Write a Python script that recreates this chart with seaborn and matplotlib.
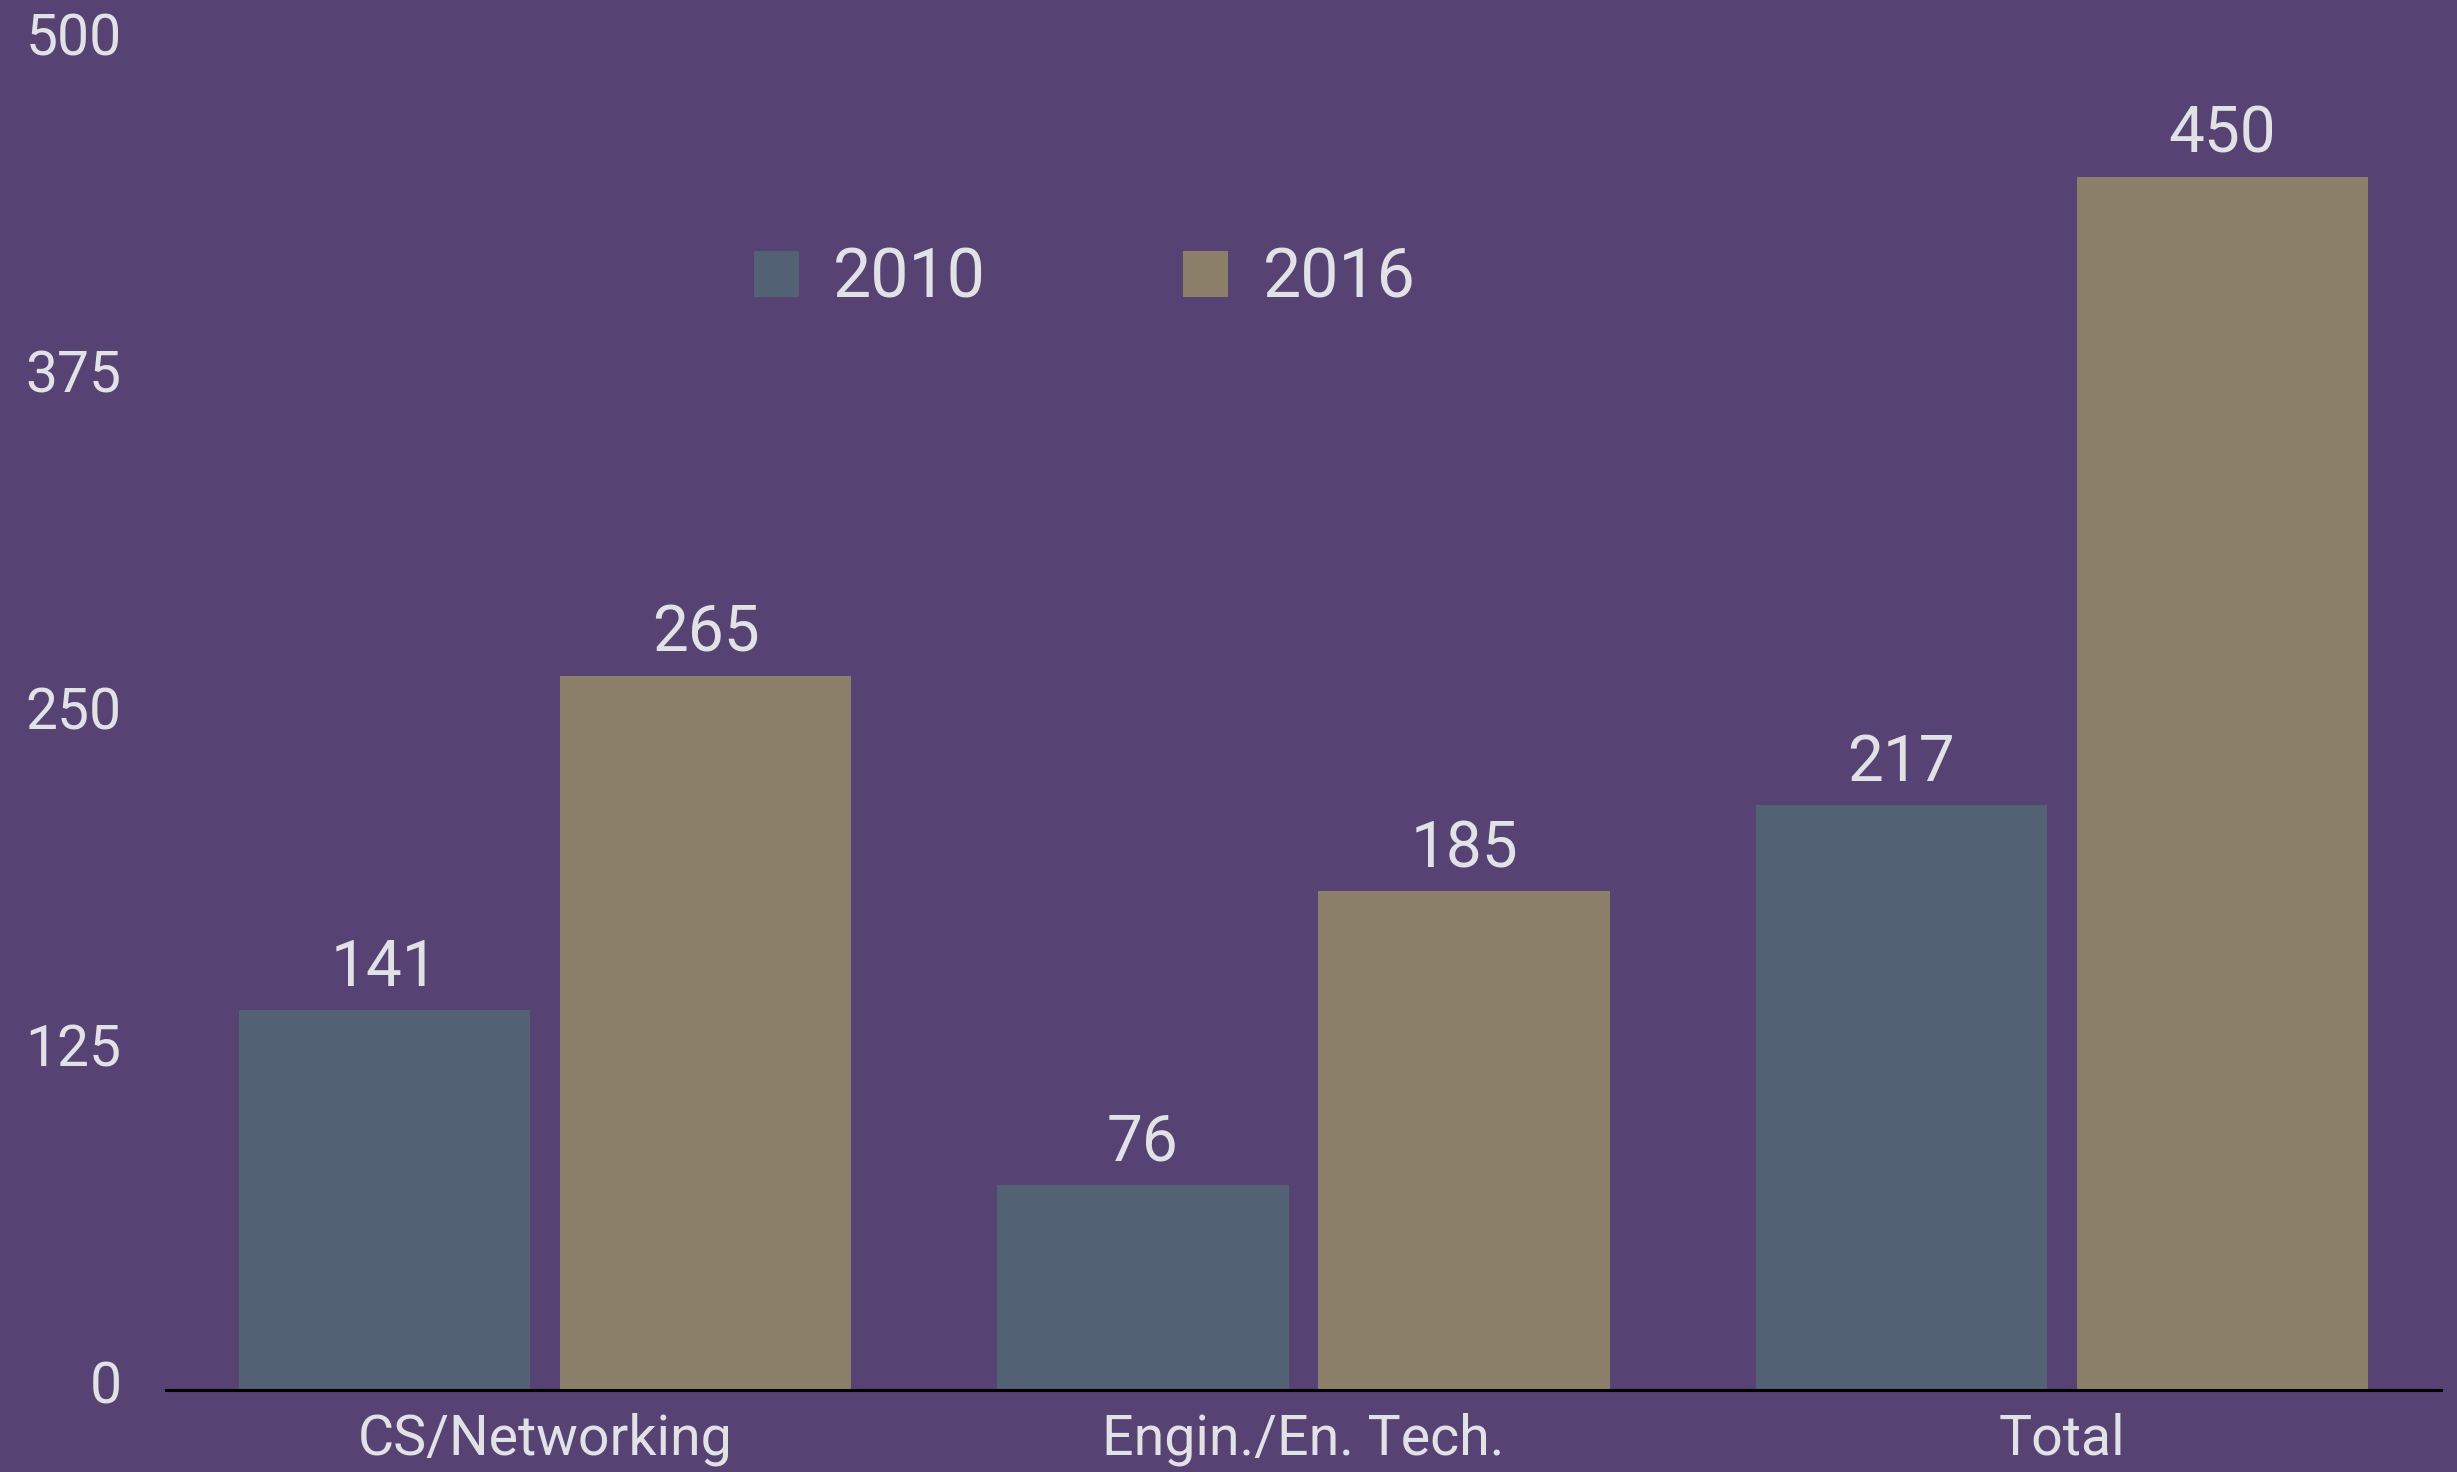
import matplotlib
matplotlib.use("Agg")
import matplotlib.pyplot as plt
import matplotlib.transforms as mtransforms
import seaborn as sns
import pandas as pd

# chart values
categories = ["CS/Networking", "Engin./En. Tech.", "Total"]
years = ["2010", "2016"]
values_2010 = [141, 76, 217]
values_2016 = [265, 185, 450]
yticks = [0, 125, 250, 375, 500]

df = pd.DataFrame({
    "category": categories * 2,
    "year": [years[0]] * 3 + [years[1]] * 3,
    "value": values_2010 + values_2016,
})

bg = "#574274"
txt = "#e2e1e6"
palette = {"2010": "#536175", "2016": "#8c7f6a"}

sns.set_theme(style="white")
plt.rcParams["font.family"] = ["Roboto", "DejaVu Sans"]

fig = plt.figure(figsize=(24.57, 14.72), dpi=100, facecolor=bg)
ax = fig.add_axes([0.0676, 0.0557, 0.9259, 0.9158])
ax.set_facecolor(bg)

sns.barplot(data=df, x="category", y="value", hue="year", order=categories,
            hue_order=years, palette=palette, width=0.847, gap=0.093,
            saturation=1, edgecolor="none", linewidth=0, ax=ax)

for c in ax.containers:
    ax.bar_label(c, padding=8, fontsize=46, color=txt)

ax.set_xlim(-0.5, 2.5)
ax.set_ylim(0, 500)
ax.set_yticks(yticks)
ax.set_xlabel("")
ax.set_ylabel("")
ax.tick_params(axis="y", length=0, pad=32, labelsize=41, labelcolor=txt)
ax.tick_params(axis="x", length=0, pad=16, labelsize=40, labelcolor=txt)

# y labels sit a little above their values in the original
shift = mtransforms.ScaledTranslation(0, 6 / 72, fig.dpi_scale_trans)
for lab in ax.get_yticklabels():
    lab.set_transform(lab.get_transform() + shift)

sns.despine(ax=ax, left=True)
ax.spines["bottom"].set_color("black")
ax.spines["bottom"].set_linewidth(2.2)

ax.legend_.remove()
handles, labels = ax.get_legend_handles_labels()
fig.legend(handles, labels, loc="center", bbox_to_anchor=(0.4415, 0.8105),
           bbox_transform=fig.transFigure, ncol=2, frameon=False,
           fontsize=49, labelcolor=txt, handlelength=0.66, handleheight=0.68,
           handletextpad=0.5, columnspacing=2.9, borderpad=0)

plt.savefig("out.png", dpi=100, facecolor=bg)
